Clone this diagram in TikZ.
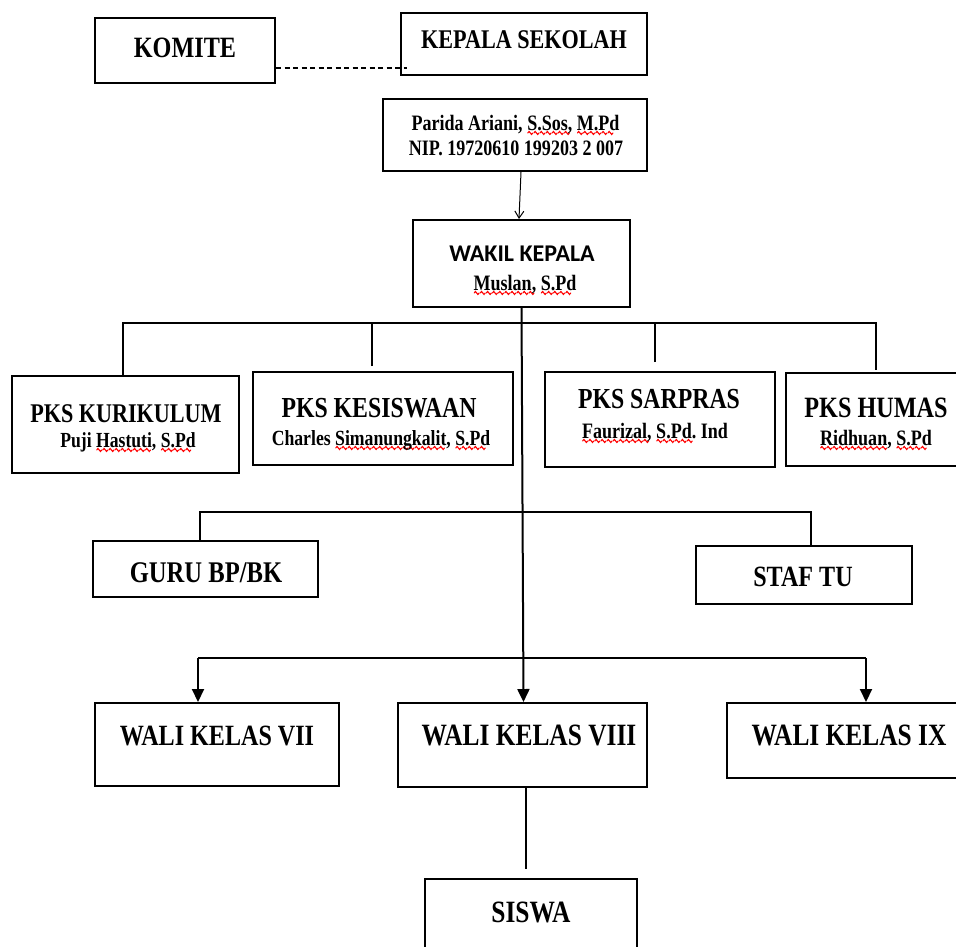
\documentclass[tikz,border=0pt]{standalone}
\usepackage{fontspec}
\setmainfont{Liberation Serif}[FakeStretch=0.82]
\newfontfamily\calib{Carlito}
\usetikzlibrary{arrows.meta,calc}
\newsavebox\wavebox
\newsavebox\sqbox
\newcommand\sq[1]{\sbox\sqbox{#1}\rlap{\raisebox{-5.5pt}{\hbox to \wd\sqbox{\leaders\copy\wavebox\hfill}}}\usebox\sqbox}
\newcommand\fs[1]{\fontsize{#1}{#1}\selectfont\bfseries}
\begin{document}
\sbox\wavebox{\pgfpicture
  \pgfsetstrokecolor{red}\pgfsetlinewidth{1.1pt}\pgfsetroundcap
  \pgfpathmoveto{\pgfpoint{0pt}{0pt}}
  \pgfpathcurveto{\pgfpoint{0.9pt}{2pt}}{\pgfpoint{1.6pt}{2pt}}{\pgfpoint{2.5pt}{0pt}}
  \pgfpathcurveto{\pgfpoint{3.4pt}{-2pt}}{\pgfpoint{4.1pt}{-2pt}}{\pgfpoint{5pt}{0pt}}
  \pgfusepath{stroke}
\endpgfpicture}%
\begin{tikzpicture}[x=1pt,y=-1pt,
  bx/.style={draw=black, line width=2pt, inner sep=0pt, rectangle},
  tx/.style={inner sep=0pt, anchor=base, text=black},
  conn/.style={draw=black, line width=2pt, line join=miter},
  dashln/.style={draw=black, line width=1.5pt, dash pattern=on 5pt off 3.5pt},
  thinarr/.style={draw=black, line width=1pt, -{Straight Barb[length=7pt,width=9pt]}},
  tri/.style={-{Triangle[length=13pt,width=12pt]}}
]
\clip (0,0) rectangle (956,946);
\fill[white] (0,0) rectangle (956,946);

% boxes
\node[bx, minimum width=180pt, minimum height=65pt] (komite) at (185,50.5) {};
\node[bx, minimum width=246pt, minimum height=62pt] (kepala) at (524,44) {};
\node[bx, minimum width=264pt, minimum height=72pt] (parida) at (515,135) {};
\node[bx, minimum width=217pt, minimum height=87pt] (wakil) at (521.5,263.5) {};
\node[bx, minimum width=227pt, minimum height=97pt] (kur) at (125.5,424.5) {};
\node[bx, minimum width=260pt, minimum height=93pt] (kes) at (383,418.5) {};
\node[bx, minimum width=230pt, minimum height=95pt] (sar) at (660,419.5) {};
\node[bx, minimum width=214pt, minimum height=93pt] (hum) at (893,419.5) {};
\node[bx, minimum width=225pt, minimum height=56pt] (guru) at (205.5,569) {};
\node[bx, minimum width=216pt, minimum height=58pt] (staf) at (804,575) {};
\node[bx, minimum width=244pt, minimum height=83pt] (w7) at (217,744.5) {};
\node[bx, minimum width=249pt, minimum height=84pt] (w8) at (522.5,745) {};
\node[bx, minimum width=273pt, minimum height=75pt] (w9) at (863.5,740.5) {};
\node[bx, minimum width=212pt, minimum height=121pt] (siswa) at (531,939.5) {};

% texts
\node[tx, font=\fs{29.5}] (komiteT) at (185,57) {KOMITE};
\node[tx, font=\fs{27}] (kepalaT) at (524,48) {KEPALA SEKOLAH};
\node[tx, font=\fs{22}] (paridaA) at (515.5,130) {Parida Ariani, \sq{S.Sos,} \sq{M.Pd}};
\node[tx, font=\fs{22}] (paridaB) at (516,155) {NIP. 19720610 199203 2 007};
\node[tx, font={\calib\fontsize{24}{24}\selectfont\bfseries}] (wakilT) at (522,261) {WAKIL KEPALA};
\node[tx, font=\fs{22}] (wakilN) at (525,290) {\sq{Muslan,} \sq{S.Pd}};
\node[tx, font=\fs{27}] (kurT) at (126,422) {PKS KURIKULUM};
\node[tx, font=\fs{21.5}] (kurN) at (128,447) {Puji \sq{Hastuti,} \sq{S.Pd}};
\node[tx, font=\fs{29}] (kesT) at (379,417) {PKS KESISWAAN};
\node[tx, font=\fs{21.6}] (kesN) at (381,445) {Charles \sq{Simanungkalit,} \sq{S.Pd}};
\node[tx, font=\fs{29}] (sarT) at (659,408) {PKS SARPRAS};
\node[tx, font=\fs{22}] (sarN) at (655,438) {\sq{Faurizal,} \sq{S.Pd.} Ind};
\node[tx, font=\fs{29.5}] (humT) at (876,417) {PKS HUMAS};
\node[tx, font=\fs{22}] (humN) at (876,445) {\sq{Ridhuan,} \sq{S.Pd}};
\node[tx, font=\fs{30}] (guruT) at (206,582) {GURU BP/BK};
\node[tx, font=\fs{29.4}] (stafT) at (803,586) {STAF TU};
\node[tx, font=\fs{29.4}] (w7T) at (217,745) {WALI KELAS VII};
\node[tx, font=\fs{31}] (w8T) at (529,745) {WALI KELAS VIII};
\node[tx, font=\fs{31}] (w9T) at (849,745) {WALI KELAS IX};
\node[tx, font=\fs{31}] (siswaT) at (531,922) {SISWA};

% connectors
\coordinate (dashend) at (407,68);
\draw[dashln] (komite.east |- dashend) -- (dashend);
\draw[thinarr] ([xshift=6pt]parida.south) -- ([xshift=-2.5pt]wakil.north);
\draw[conn, tri] (wakil.south) -- ([xshift=1pt]w8.north);

\coordinate (pkb) at (0,323);
\coordinate (kura) at ([xshift=-2.5pt]kur.north);
\coordinate (kesd) at (372,366);
\coordinate (sard) at (655,362);
\coordinate (humd) at (876,370);
\draw[conn] (kura) |- (humd |- pkb) -- (humd);
\draw[conn] (kesd) -- (kesd |- pkb);
\draw[conn] (sard) -- (sard |- pkb);

\coordinate (gsb) at (0,512);
\coordinate (gurua) at ([xshift=-5.5pt]guru.north);
\coordinate (stafa) at ([xshift=7pt]staf.north);
\draw[conn] (gurua) |- (stafa |- gsb) -- (stafa);

\coordinate (wb) at (0,658);
\coordinate (w7a) at ([xshift=-19pt]w7.north);
\coordinate (w9a) at ([xshift=2.5pt]w9.north);
\draw[conn] (w7a |- wb) -- (w9a |- wb);
\draw[conn, tri] (w7a |- wb) -- (w7a);
\draw[conn, tri] (w9a |- wb) -- (w9a);

\draw[conn, shorten >=9pt] ([xshift=3.5pt]w8.south) -- ([xshift=-5pt]siswa.north);
\end{tikzpicture}
\end{document}
